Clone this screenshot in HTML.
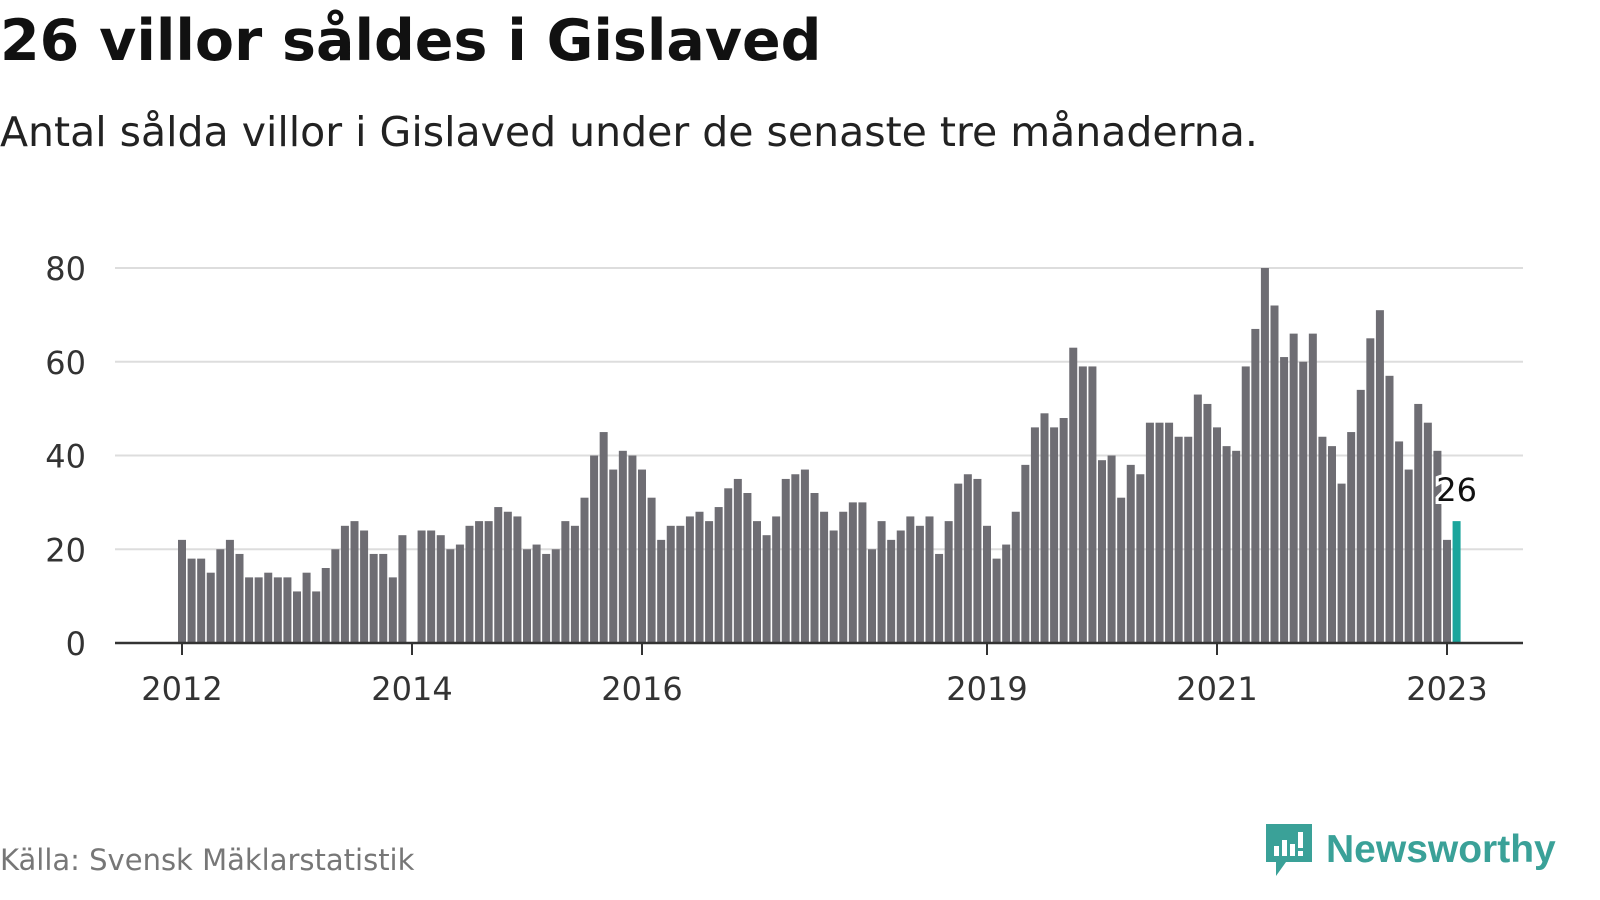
<!DOCTYPE html>
<html><head><meta charset="utf-8"><style>
body{margin:0;width:1600px;height:900px;background:#fff;font-family:"DejaVu Sans","Liberation Sans",sans-serif;overflow:hidden;position:relative}
#title{position:absolute;left:0;top:8px;font-size:57px;font-weight:bold;color:#111;margin:0;letter-spacing:0px}
#sub{position:absolute;left:0;top:108px;font-size:41px;color:#222}
#src{position:absolute;left:0;top:843px;font-size:29px;color:#777}
#logo{position:absolute;left:1264px;top:822px;display:flex;align-items:center}
#logo span{font-size:39px;font-weight:bold;color:#3aa198;margin-left:12px;font-family:"Liberation Sans",sans-serif}
</style></head><body>
<h1 id="title">26 villor såldes i Gislaved</h1>
<div id="sub">Antal sålda villor i Gislaved under de senaste tre månaderna.</div>
<svg id="chart" width="1600" height="900" style="position:absolute;left:0;top:0"></svg>
<div id="src">Källa: Svensk Mäklarstatistik</div>
<div id="logo">
<svg width="50" height="56" viewBox="0 0 50 56"><path d="M2 2h46v38H22l-10 14V40H2z" fill="#3aa198"/><rect x="10" y="24" width="5" height="10" fill="#fff"/><rect x="18" y="18" width="5" height="16" fill="#fff"/><rect x="26" y="22" width="5" height="12" fill="#fff"/><rect x="34" y="10" width="5" height="16" fill="#fff"/><rect x="34" y="29" width="5" height="5" fill="#fff"/></svg>
<span>Newsworthy</span></div>
<script>
const values=[22,18,18,15,20,22,19,14,14,15,14,14,
11,15,11,16,20,25,26,24,19,19,14,23,
0,24,24,23,20,21,25,26,26,29,28,27,
20,21,19,20,26,25,31,40,45,37,41,40,
37,31,22,25,25,27,28,26,29,33,35,32,
26,23,27,35,36,37,32,28,24,28,30,30,
20,26,22,24,27,25,27,19,26,34,36,35,
25,18,21,28,38,46,49,46,48,63,59,59,
39,40,31,38,36,47,47,47,44,44,53,51,
46,42,41,59,67,80,72,61,66,60,66,44,
42,34,45,54,65,71,57,43,37,51,47,41,
22,26];
const yTicks=[0,20,40,60,80];
const xTickLabels=["2012","2014","2016","2019","2021","2023"];
const xTickIndex=[0,24,48,84,108,132];
const NS="http://www.w3.org/2000/svg",svg=document.getElementById('chart');
const y=v=>643-v*(375/80), x=i=>182+i*(1265/132);
function el(t,a){const e=document.createElementNS(NS,t);for(const k in a)e.setAttribute(k,a[k]);svg.appendChild(e);return e;}
yTicks.forEach(t=>{
 if(t>0){const g=el('line',{x1:115,x2:1523,y1:y(t),y2:y(t),stroke:'#ddd','stroke-width':2});
 
 }
 const l=el('text',{x:86,y:y(t)+12,'text-anchor':'end','font-size':32,fill:'#333'});l.textContent=t;
 
 
});
values.forEach((v,i)=>{
 const last=i===values.length-1;
 const r=el('rect',{x:x(i)-4,y:y(v),width:8,height:643-y(v),fill:last?'#1aa59c':'#6e6d73'});
 
 
});
const ax=el('line',{x1:115,x2:1523,y1:643,y2:643,stroke:'#333','stroke-width':2.5});


xTickLabels.forEach((s,k)=>{
 const xi=x(xTickIndex[k]);
 const tk=el('line',{x1:xi,x2:xi,y1:643,y2:655,stroke:'#333','stroke-width':2});
 
 
 const l=el('text',{x:xi,y:700,'text-anchor':'middle','font-size':32,fill:'#333'});l.textContent=s;
 
 
});
const li=values.length-1;
const lab=el('text',{x:x(li),y:y(values[li])-20,'text-anchor':'middle','font-size':32,fill:'#111',stroke:'#fff','stroke-width':6,'paint-order':'stroke'});
lab.textContent=values[li];


</script>
</body></html>
